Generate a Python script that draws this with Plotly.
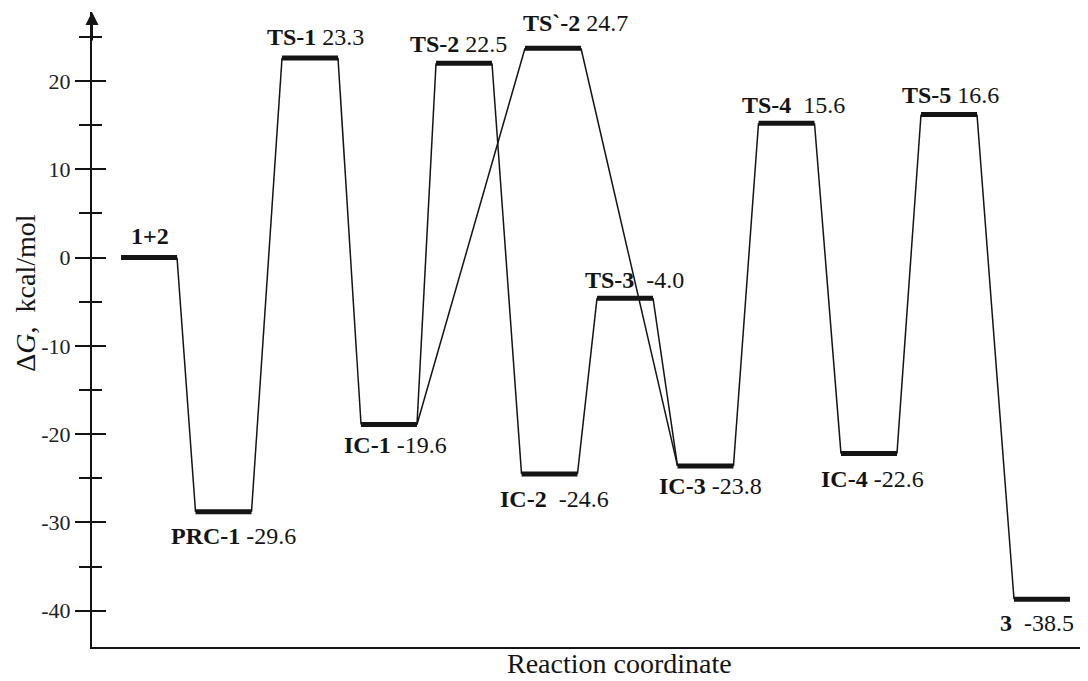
import plotly.graph_objects as go

# ---------------- data ----------------
names = ["1+2", "PRC-1", "TS-1", "IC-1", "TS-2", "TS`-2", "IC-2",
         "TS-3", "IC-3", "TS-4", "IC-4", "TS-5", "3"]
# level heights as drawn on the ΔG axis (kcal/mol)
level_energy = [0.0, -28.8, 22.6, -18.9, 22.0, 23.7, -24.5,
                -4.6, -23.6, 15.2, -22.2, 16.2, -38.7]
# position along the reaction coordinate
level_pos = [1.145, 2.641, 4.378, 5.964, 7.470, 9.257, 9.187,
             10.703, 12.319, 13.946, 15.602, 17.209, 19.076]
# label texts (bold name + value)
label_text = ["<b>1+2</b>",
              "<b>PRC-1</b> -29.6",
              "<b>TS-1</b> 23.3",
              "<b>IC-1</b> -19.6",
              "<b>TS-2</b> 22.5",
              "<b>TS`-2</b> 24.7",
              "<b>IC-2</b>\u00a0\u00a0-24.6",
              "<b>TS-3</b>\u00a0\u00a0-4.0",
              "<b>IC-3</b> -23.8",
              "<b>TS-4</b>\u00a0\u00a015.6",
              "<b>IC-4</b> -22.6",
              "<b>TS-5</b> 16.6",
              "<b>3</b>\u00a0\u00a0-38.5"]
links = [("1+2", "PRC-1"), ("PRC-1", "TS-1"), ("TS-1", "IC-1"),
         ("IC-1", "TS-2"), ("IC-1", "TS`-2"), ("TS-2", "IC-2"),
         ("IC-2", "TS-3"), ("TS-3", "IC-3"), ("TS`-2", "IC-3"),
         ("IC-3", "TS-4"), ("TS-4", "IC-4"), ("IC-4", "TS-5"),
         ("TS-5", "3")]
y_major = [-40, -30, -20, -10, 0, 10, 20]
y_minor = [-35, -25, -15, -5, 5, 15, 25]

# ---------------- style ----------------
half_w = 0.562
label_offsets = [(1, -22), (9.5, 24.5), (5.5, -21), (6, 20.5), (-5.5, -19.5),
                 (22, -25), (5, 25.5), (9, -18), (5, 20.5), (6.5, -18),
                 (4, 25), (1.5, -19), (-5, 24)]
FONT = "Liberation Serif, Times New Roman, serif"
INK = "#141414"
Y_RANGE = [-44.1, 27.8]
X_RANGE = [0, 20]

idx = {n: i for i, n in enumerate(names)}

# level bars
bx, by = [], []
for p, e in zip(level_pos, level_energy):
    bx += [p - half_w, p + half_w, None]
    by += [e, e, None]

# connectors
cx, cy = [], []
for a, b in links:
    i, j = idx[a], idx[b]
    cx += [level_pos[i] + half_w, level_pos[j] - half_w, None]
    cy += [level_energy[i], level_energy[j], None]

fig = go.Figure()
fig.add_trace(go.Scatter(x=cx, y=cy, mode="lines", yaxis="y2",
                         line=dict(color=INK, width=1.5),
                         hoverinfo="skip", showlegend=False))
fig.add_trace(go.Scatter(x=bx, y=by, mode="lines",
                         line=dict(color=INK, width=5),
                         hoverinfo="skip", showlegend=False))

annotations = []
for p, e, t, (dx, dy) in zip(level_pos, level_energy, label_text, label_offsets):
    annotations.append(dict(x=p, y=e, xref="x", yref="y", text=t,
                            showarrow=False, xanchor="center", yanchor="middle",
                            xshift=dx, yshift=-dy,
                            font=dict(family=FONT, size=24, color=INK)))

# arrow at top of the energy axis
annotations.append(dict(x=0, y=1, xref="paper", yref="paper", text="",
                        showarrow=True, ax=0, ay=30, arrowhead=2,
                        arrowsize=1.3, arrowwidth=2, arrowcolor=INK))
# axis titles
annotations.append(dict(x=0, y=-4.1, xref="paper", yref="y",
                        text="\u0394<i>G</i>,\u00a0\u00a0kcal/mol",
                        textangle=-90, showarrow=False, xanchor="center",
                        yanchor="middle", xshift=-66,
                        font=dict(family=FONT, size=28, color=INK)))
annotations.append(dict(x=10.60, y=0, xref="x", yref="paper",
                        text="Reaction coordinate", showarrow=False,
                        xanchor="center", yanchor="middle", yshift=-16,
                        font=dict(family=FONT, size=28, color=INK)))

fig.update_layout(
    width=1080, height=673,
    margin=dict(l=84, r=0, t=4, b=34),
    paper_bgcolor="white", plot_bgcolor="white",
    showlegend=False,
    xaxis=dict(range=X_RANGE, showline=True, linecolor=INK, linewidth=2,
               showgrid=False, zeroline=False, ticks="", showticklabels=False,
               fixedrange=True),
    yaxis=dict(range=Y_RANGE, showline=True, linecolor=INK, linewidth=2,
               showgrid=False, zeroline=False,
               tickmode="array", tickvals=y_major,
               ticktext=[str(v) for v in y_major],
               ticks="outside", ticklen=15, tickwidth=2, tickcolor=INK,
               tickfont=dict(family=FONT, size=22, color="#222222"),
               minor=dict(tickmode="array", tickvals=y_minor, ticks="outside",
                          ticklen=11, tickwidth=2, tickcolor=INK,
                          showgrid=False),
               fixedrange=True),
    yaxis2=dict(range=Y_RANGE, overlaying="y", anchor="x", side="left",
                showline=False, showgrid=False, zeroline=False,
                showticklabels=False, tickmode="array", tickvals=y_major,
                ticks="inside", ticklen=14, tickwidth=2, tickcolor=INK,
                minor=dict(tickmode="array", tickvals=y_minor, ticks="inside",
                           ticklen=10, tickwidth=2, tickcolor=INK,
                           showgrid=False),
                fixedrange=True),
    annotations=annotations,
)

fig.write_html("out.html")
